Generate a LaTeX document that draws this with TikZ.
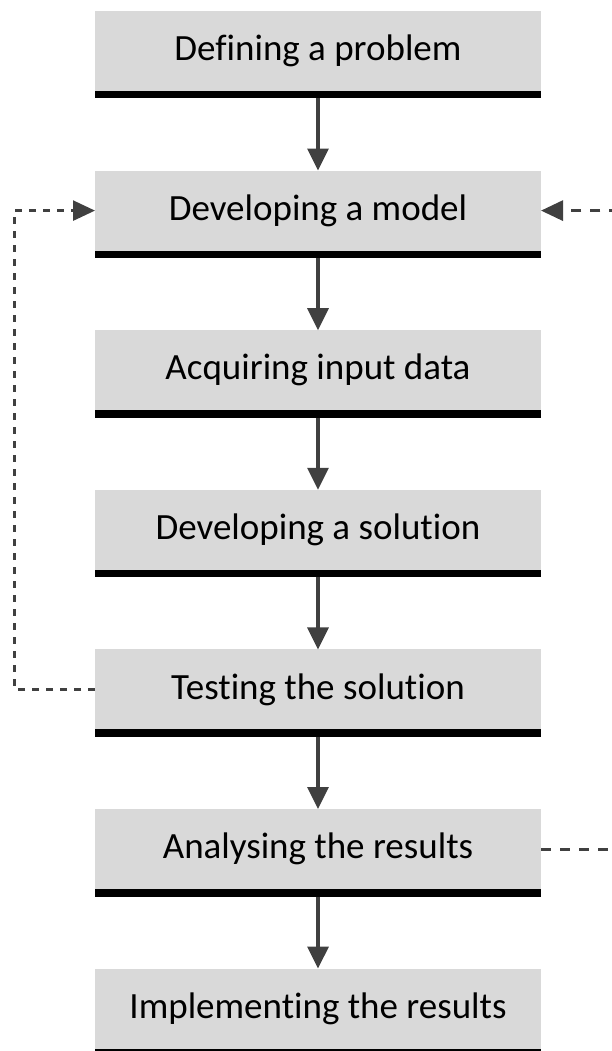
\documentclass[tikz,border=0pt]{standalone}
\usepackage{fontspec}
\setmainfont[Ligatures=NoCommon]{Carlito}
\usepackage{tikz}
\usetikzlibrary{arrows.meta,positioning}

\definecolor{boxgray}{HTML}{D9D9D9}
\definecolor{linegray}{HTML}{404040}

\begin{document}
\begin{tikzpicture}[
  x=1pt,
  y=1pt,
  stepbox/.style={fill=boxgray, minimum width=446pt, minimum height=80pt,
    inner sep=0pt, outer sep=0pt, font=\fontsize{37}{44}\selectfont},
  barbox/.style={fill=black, minimum width=446pt, minimum height=7.5pt,
    inner sep=0pt, outer sep=0pt},
  flow/.style={draw=linegray, line width=3.2pt, -{Triangle[width=21pt,length=22pt]}},
  feedback/.style={draw=linegray, line width=2.6pt, dash pattern=on 7pt off 7pt,
    -{Triangle[width=20pt,length=22pt]}}
]
  \clip (0,0) rectangle (612,-1051);

  \node[stepbox, anchor=north] (define) at (318,-11) {Defining a problem};
  \node[stepbox, below=79.6pt of define] (model) {Developing a model};
  \node[stepbox, below=79.6pt of model] (data) {Acquiring input data};
  \node[stepbox, below=79.6pt of data] (solution) {Developing a solution};
  \node[stepbox, below=79.6pt of solution] (testing) {Testing the solution};
  \node[stepbox, below=79.6pt of testing] (analysing) {Analysing the results};
  \node[stepbox, below=79.6pt of analysing] (implement) {Implementing the results};

  % thick bar under every box
  \foreach \n in {define,model,data,solution,testing,analysing,implement} {
    \node[barbox, below=0pt of \n] (\n-bar) {};
  }

  \foreach \a/\b in {define/model,model/data,data/solution,solution/testing,
                     testing/analysing,analysing/implement} {
    \draw[flow] (\a-bar) -- (\b);
  }

  % loops back to the model
  \draw[feedback] (testing.west) -| ([xshift=-80.5pt]model.west) -- (model.west);
  \draw[feedback, line width=3pt, dash pattern=on 10pt off 9pt]
    (analysing.east) -| ([xshift=100pt]model.east) -- (model.east);
\end{tikzpicture}
\end{document}
